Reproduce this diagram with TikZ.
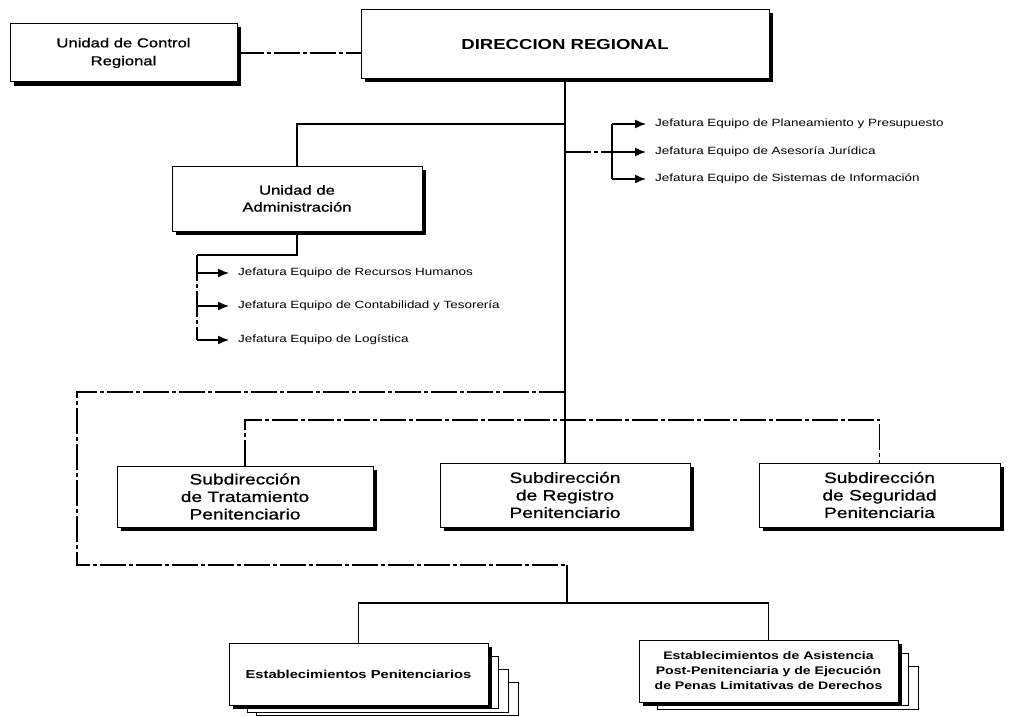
\documentclass[tikz,border=0pt]{standalone}
\usepackage{fontspec}
\setmainfont{Liberation Sans}[FakeStretch=1.28]
\newfontfamily\heavyfont{Liberation Sans}[FakeStretch=1.28, FakeBold=0.9]
\usetikzlibrary{shadows,arrows.meta,calc}
\begin{document}
\begin{tikzpicture}[x=1pt,y=-1pt,
  box/.style={draw, line width=1pt, fill=white, align=center, inner sep=2pt,
    drop shadow={shadow xshift=3.5pt, shadow yshift=-3.5pt, fill=black, opacity=1}},
  subfont/.style={font=\heavyfont\fontsize{15}{17.5}\selectfont},
  conn/.style={line width=1.4pt},
  brk/.style={conn, dash pattern=on 26pt off 3pt on 4pt off 3pt},
  lab/.style={anchor=west, inner sep=0pt, font=\fontsize{10.5}{12}\selectfont},
  arr/.style={line width=1.5pt, -{Latex[length=11pt,width=9pt]}, shorten >=9pt},
  stackbox/.style={draw, fill=white, line width=0.9pt}]
\useasboundingbox (0,0) rectangle (1012,717);
\fill[white] (0,0) rectangle (1012,717);

% top level
\node[box, minimum width=227pt, minimum height=58pt, font=\heavyfont\fontsize{13}{18}\selectfont]
  (control) at (123.5,53) {Unidad de Control\\Regional};
\node[box, minimum width=408pt, minimum height=69pt, font=\bfseries\fontsize{14.5}{17}\selectfont]
  (dir) at (565,44.5) {DIRECCION REGIONAL};
\node[box, minimum width=250pt, minimum height=65pt, font=\heavyfont\fontsize{13}{17}\selectfont]
  (admin) at (297,198.5) {Unidad de\\Administración};

% staff units on the right
\node[lab] (r1) at (655,124) {Jefatura Equipo de Planeamiento y Presupuesto};
\node[lab] (r2) at (655,152) {Jefatura Equipo de Asesoría Jurídica};
\node[lab] (r3) at (655,179) {Jefatura Equipo de Sistemas de Información};

% administration teams
\node[lab] (l1) at (238,273) {Jefatura Equipo de Recursos Humanos};
\node[lab] (l2) at (238,306) {Jefatura Equipo de Contabilidad y Tesorería};
\node[lab] (l3) at (238,340) {Jefatura Equipo de Logística};

% sub-directorates
\node[box, subfont, minimum width=256pt, minimum height=61pt]
  (trat) at (245,496.5) {Subdirección\\de Tratamiento\\Penitenciario};
\node[box, subfont, minimum width=250pt, minimum height=64pt]
  (reg) at (565,495) {Subdirección\\de Registro\\Penitenciario};
\node[box, subfont, minimum width=241pt, minimum height=64pt]
  (seg) at (879.5,495) {Subdirección\\de Seguridad\\Penitenciaria};

% stacked establishments
\foreach \k in {3,2,1}
  \draw[stackbox] (229+9*\k,643+13*\k) rectangle (488+10*\k,705+3.5*\k);
\foreach \k in {2,1}
  \draw[stackbox] (639+9*\k,640+13*\k) rectangle (898+10*\k,702+3.5*\k);
\node[box, minimum width=259pt, minimum height=62pt, font=\bfseries\fontsize{11.5}{15}\selectfont]
  (est1) at (358.5,674) {Establecimientos Penitenciarios};
\node[box, minimum width=259pt, minimum height=62pt, font=\bfseries\fontsize{11}{15}\selectfont]
  (est2) at (768.5,671) {Establecimientos de Asistencia\\Post-Penitenciaria y de Ejecución\\de Penas Limitativas de Derechos};

% junction points
\coordinate (ja) at (565,124);
\coordinate (rtop) at (612,124);
\coordinate (rbot) at (612,179);
\coordinate (lbr) at (197,255);
\coordinate (lp1) at (565,392);
\coordinate (lp2) at (77,392);
\coordinate (lp3) at (77,565);
\coordinate (lp4) at (567,565);
\coordinate (ebus) at (567,603);
\coordinate (sb) at (565,420);

% connectors
\draw[brk] (control.east) -- (control.east -| dir.west);
\draw[conn] (dir.south) -- (reg.north);
\draw[conn] (ja) -| (admin.north);

\draw[conn] (rtop) -- (rbot);
\draw[brk] (dir.south |- r2.west) -- (rtop |- r2.west);
\draw[arr] (rtop) -- (r1.west);
\draw[arr] (rtop |- r2.west) -- (r2.west);
\draw[arr] (rbot) -- (r3.west);

\draw[conn] (admin.south) |- (lbr);
\draw[brk] (lbr) -- (lbr |- l3.west);
\draw[arr] (lbr |- l1.west) -- (l1.west);
\draw[arr] (lbr |- l2.west) -- (l2.west);
\draw[arr] (lbr |- l3.west) -- (l3.west);

\draw[brk] (trat.north) |- (sb) -| (seg.north);

\draw[brk] (lp1) -- (lp2) -- (lp3) -- (lp4);
\draw[conn] (lp4) -- (ebus);
\draw[conn] (est1.north) |- (ebus) -| (est2.north);
\end{tikzpicture}
\end{document}
